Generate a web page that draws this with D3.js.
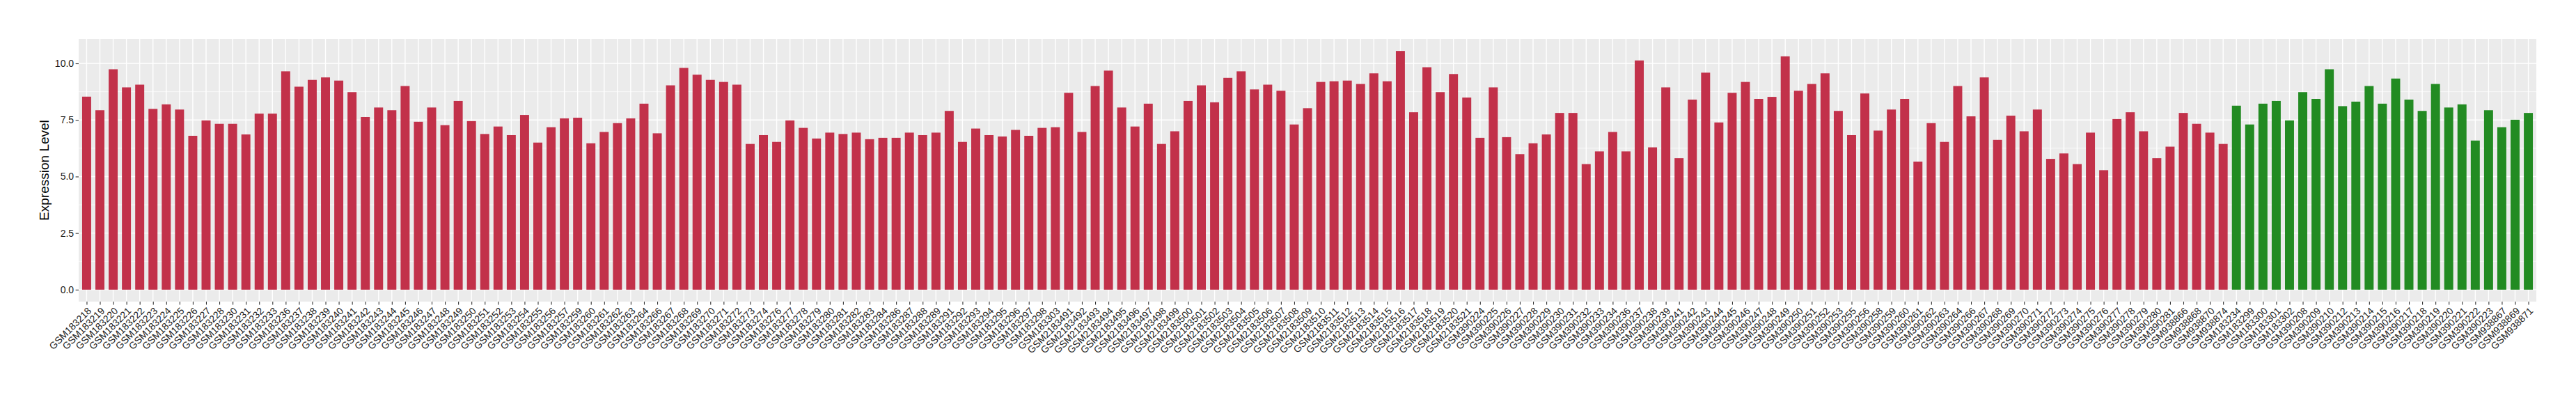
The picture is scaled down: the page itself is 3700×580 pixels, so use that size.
<!DOCTYPE html>
<html lang="en">
<head>
<meta charset="utf-8">
<title>Expression Level by sample</title>
<script src="https://cdnjs.cloudflare.com/ajax/libs/d3/7.8.5/d3.min.js"></script>
<style>
  body { margin: 0; background: #fff; }
  text { font-family: "Liberation Sans", Arial, sans-serif; }
</style>
</head>
<body>
<script>
// tumour samples (red) then normal samples (green)
var tumorSamples = [
  "GSM183218","GSM183219","GSM183220","GSM183221","GSM183222","GSM183223","GSM183224","GSM183225","GSM183226","GSM183227","GSM183228",
  "GSM183230","GSM183231","GSM183232","GSM183233",
  "GSM183236","GSM183237","GSM183238","GSM183239","GSM183240","GSM183241","GSM183242","GSM183243","GSM183244","GSM183245","GSM183246",
  "GSM183247","GSM183248","GSM183249","GSM183250","GSM183251","GSM183252","GSM183253","GSM183254","GSM183255","GSM183256","GSM183257",
  "GSM183259","GSM183260","GSM183261","GSM183262","GSM183263","GSM183264",
  "GSM183266","GSM183267","GSM183268","GSM183269","GSM183270","GSM183271","GSM183272","GSM183273","GSM183274",
  "GSM183276","GSM183277","GSM183278","GSM183279","GSM183280","GSM183281","GSM183282","GSM183283","GSM183284",
  "GSM183286","GSM183287","GSM183288","GSM183289",
  "GSM183291","GSM183292","GSM183293","GSM183294","GSM183295","GSM183296","GSM183297","GSM183298",
  "GSM183303",
  "GSM2183491","GSM2183492","GSM2183493","GSM2183494","GSM2183495","GSM2183496","GSM2183497","GSM2183498","GSM2183499","GSM2183500",
  "GSM2183501","GSM2183502","GSM2183503","GSM2183504","GSM2183505","GSM2183506","GSM2183507","GSM2183508","GSM2183509","GSM2183510",
  "GSM2183511","GSM2183512","GSM2183513","GSM2183514","GSM2183515","GSM2183516","GSM2183517","GSM2183518","GSM2183519","GSM2183520",
  "GSM2183521",
  "GSM390224","GSM390225","GSM390226","GSM390227","GSM390228","GSM390229","GSM390230","GSM390231","GSM390232","GSM390233","GSM390234",
  "GSM390236","GSM390237","GSM390238","GSM390239",
  "GSM390241","GSM390242","GSM390243","GSM390244","GSM390245","GSM390246","GSM390247","GSM390248","GSM390249","GSM390250","GSM390251",
  "GSM390252","GSM390253",
  "GSM390255","GSM390256",
  "GSM390258","GSM390259","GSM390260","GSM390261","GSM390262","GSM390263","GSM390264",
  "GSM390266","GSM390267","GSM390268","GSM390269","GSM390270","GSM390271","GSM390272","GSM390273","GSM390274","GSM390275","GSM390276",
  "GSM390277","GSM390278","GSM390279","GSM390280","GSM390281",
  "GSM938866","GSM938868","GSM938870","GSM938874"
];
var tumorValues = [
  8.53,7.93,9.74,8.94,9.06,7.99,8.19,7.96,6.80,7.48,7.33,7.33,6.86,7.78,7.78,9.65,8.97,9.27,9.38,9.24,
  8.73,7.63,8.05,7.93,9.00,7.42,8.05,7.27,8.34,7.45,6.88,7.21,6.83,7.72,6.50,7.18,7.57,
  7.60,6.47,6.97,7.36,7.57,8.22,6.91,9.03,9.80,9.50,9.27,9.18,9.06,6.44,6.83,6.53,7.48,7.15,6.68,6.94,
  6.88,6.94,6.65,6.71,6.71,6.94,6.83,6.94,7.90,6.53,7.12,6.83,6.77,7.06,6.80,7.15,7.18,
  8.70,6.97,9.00,9.68,8.05,7.21,8.22,6.44,7.00,8.34,9.03,8.28,9.36,9.65,8.85,9.06,8.79,7.30,8.02,9.18,
  9.21,9.24,9.09,9.56,9.21,10.55,7.84,9.83,8.73,9.53,8.49,6.71,8.94,6.74,5.99,6.47,6.86,
  7.81,7.81,5.55,6.11,6.97,6.11,10.13,6.29,8.94,5.81,8.40,9.59,7.39,8.70,9.18,8.43,8.52,10.31,8.79,9.09,
  9.56,7.90,6.83,8.67,7.03,7.96,8.43,5.66,7.36,6.53,9.00,7.66,9.38,6.62,7.69,7.00,7.96,
  5.78,6.02,5.55,6.94,5.28,7.54,7.84,7.00,5.81,6.32,7.81,7.33,6.94,6.44
];
var normalSamples = [
  "GSM183234","GSM183299","GSM183300","GSM183301","GSM183302",
  "GSM390208","GSM390209","GSM390210","GSM390212","GSM390213","GSM390214","GSM390215","GSM390216","GSM390217",
  "GSM390218","GSM390219","GSM390220","GSM390221","GSM390222","GSM390223",
  "GSM938867","GSM938869","GSM938871"
];
var normalValues = [
  8.13,7.30,8.22,8.34,7.48,8.73,8.43,9.74,8.11,8.31,9.00,8.22,9.33,8.40,7.90,9.09,8.05,8.19,6.59,7.93,
  7.18,7.51,7.81
];
var yTicks = [0, 2.5, 5, 7.5, 10];
var yMinor = [1.25, 3.75, 6.25, 8.75];
var tumorColor = "#c2314a";
var normalColor = "#228b22";

var w = 3700, h = 580;
// panel edges (note: "top" is a reserved global in browsers)
var panelLeft = 113, panelRight = 3643, panelTop = 56, panelBottom = 433;

var data = [];
tumorSamples.forEach(function(s, i) { data.push({name: s, value: tumorValues[i], color: tumorColor}); });
normalSamples.forEach(function(s, i) { data.push({name: s, value: normalValues[i], color: normalColor}); });

var svg = d3.select("body").append("svg")
  .attr("width", w).attr("height", h)
  .style("background", "#fff");

var x = d3.scalePoint()
  .domain(data.map(function(d) { return d.name; }))
  .range([panelLeft, panelRight])
  .padding(0.6);

var maxV = d3.max(data, function(d) { return d.value; });
var y = d3.scaleLinear()
  .domain([-0.05 * maxV, maxV * 1.05])
  .range([panelBottom, panelTop]);

var barW = x.step() * 0.68;

// panel
svg.append("rect")
  .attr("x", panelLeft).attr("y", panelTop)
  .attr("width", panelRight - panelLeft).attr("height", panelBottom - panelTop)
  .attr("fill", "#ebebeb");

var grid = svg.append("g");
grid.selectAll("line.minor").data(yMinor).enter().append("line")
  .attr("x1", panelLeft).attr("x2", panelRight)
  .attr("y1", function(d) { return y(d); }).attr("y2", function(d) { return y(d); })
  .attr("stroke", "#fff").attr("stroke-width", 0.7);
grid.selectAll("line.majory").data(yTicks).enter().append("line")
  .attr("x1", panelLeft).attr("x2", panelRight)
  .attr("y1", function(d) { return y(d); }).attr("y2", function(d) { return y(d); })
  .attr("stroke", "#fff").attr("stroke-width", 1.4);
grid.selectAll("line.majorx").data(data).enter().append("line")
  .attr("y1", panelTop).attr("y2", panelBottom)
  .attr("x1", function(d) { return x(d.name); }).attr("x2", function(d) { return x(d.name); })
  .attr("stroke", "#fff").attr("stroke-width", 1.4);

// bars
svg.append("g").selectAll("rect").data(data).enter().append("rect")
  .attr("x", function(d) { return x(d.name) - barW / 2; })
  .attr("width", barW)
  .attr("y", function(d) { return y(d.value); })
  .attr("height", function(d) { return y(0) - y(d.value); })
  .attr("fill", function(d) { return d.color; });

// y axis
var yAxis = svg.append("g")
  .attr("transform", "translate(" + panelLeft + ",0)")
  .call(d3.axisLeft(y).tickValues(yTicks).tickFormat(d3.format(".1f")).tickSize(4.4).tickPadding(2.5));
yAxis.select(".domain").remove();
yAxis.selectAll(".tick line").attr("stroke", "#333").attr("stroke-width", 1.1);
yAxis.selectAll(".tick text")
  .style("font-size", "14px").attr("fill", "#1a1a1a");

// x axis
var xAxis = svg.append("g")
  .attr("transform", "translate(0," + panelBottom + ")")
  .call(d3.axisBottom(x).tickSize(4.4).tickPadding(0));
xAxis.select(".domain").remove();
xAxis.selectAll(".tick line").attr("stroke", "#333").attr("stroke-width", 1.1);
xAxis.selectAll(".tick text")
  .style("font-size", "14px").attr("fill", "#1a1a1a")
  .attr("text-anchor", "end")
  .attr("y", 0).attr("dy", "0.72em")
  .attr("transform", "translate(0,7) rotate(-45)");

// y title
svg.append("text")
  .attr("transform", "translate(70," + ((panelTop + panelBottom) / 2) + ") rotate(-90)")
  .attr("text-anchor", "middle")
  .style("font-size", "19px")
  .attr("fill", "#000")
  .text("Expression Level");
</script>
</body>
</html>
